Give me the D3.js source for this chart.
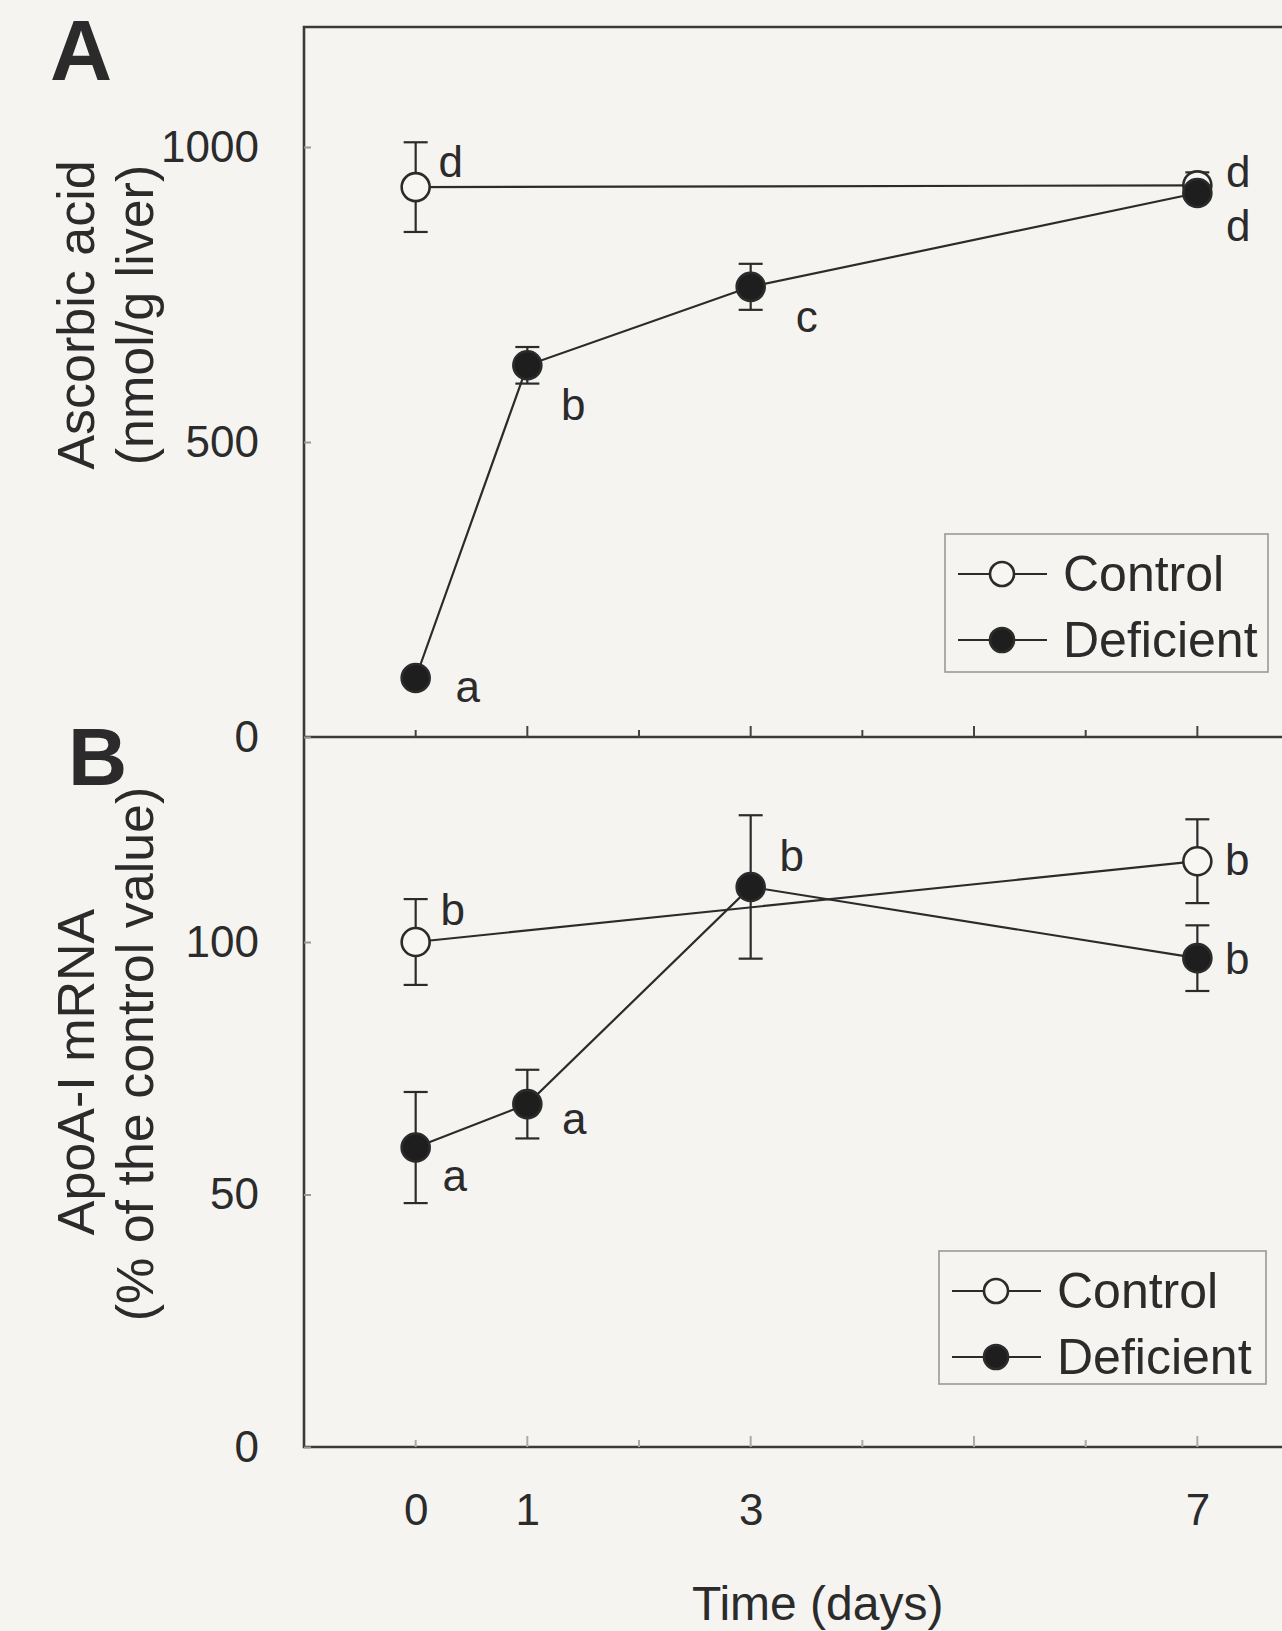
<!DOCTYPE html>
<html>
<head>
<meta charset="utf-8">
<script src="https://cdn.jsdelivr.net/npm/d3@7"></script>
<style>
  body { margin: 0; background: #f5f4f1; }
  svg { display: block; }
  text { font-family: "Liberation Sans", Arial, sans-serif; fill: #2b2b2b; }
</style>
</head>
<body>
<div id="chart"></div>
<script>
// time points (days)
var days = [0, 1, 3, 7];
var controlDays = [0, 7];
var xTickDays = [0, 1, 2, 3, 4, 5, 6, 7];
var xTickLabels = ["0", "1", "", "3", "", "", "", "7"];

// panel A: ascorbic acid (nmol/g liver)
var ascControl = [932, 935];
var ascControlErr = [76, 22];
var ascControlLetters = ["d", "d"];
var ascDeficient = [100, 630, 763, 922];
var ascDeficientErr = [8, 31, 39, 8];
var ascDeficientLetters = ["a", "b", "c", "d"];
var ascTicks = [0, 500, 1000];

// panel B: ApoA-I mRNA (% of control)
var apoControl = [100, 116];
var apoControlErr = [8.5, 8.3];
var apoControlLetters = ["b", "b"];
var apoDeficient = [59.3, 67.9, 110.9, 96.8];
var apoDeficientErr = [11, 6.8, 14.2, 6.5];
var apoDeficientLetters = ["a", "a", "b", "b"];
var apoTicks = [0, 50, 100];

var seriesNames = ["Control", "Deficient"];

var width = 1282, height = 1631;
var plotLeft = 304, plotTop = 27, plotMid = 737, plotBottom = 1447;
var ink = "#2b2b2b";

var svg = d3.select("#chart").append("svg")
    .attr("width", width)
    .attr("height", height)
    .attr("viewBox", [0, 0, width, height]);

var x = d3.scaleLinear().domain([-1, 8]).range([plotLeft, plotLeft + 9 * 111.67]);
var yA = d3.scaleLinear().domain([0, 1000]).range([plotMid, 147]);
var yB = d3.scaleLinear().domain([0, 100]).range([plotBottom, 942]);

// frame (right edge runs off the picture)
svg.append("path")
    .attr("d", "M" + width + "," + plotTop + "H" + plotLeft + "V" + plotBottom + "H" + width
        + "M" + plotLeft + "," + plotMid + "H" + width)
    .attr("fill", "none")
    .attr("stroke", "#3a3a3a")
    .attr("stroke-width", 2.6);

// x ticks on the shared line and on the bottom line
function xTicks(yPos, col) {
    svg.append("g")
        .selectAll("line")
        .data(xTickDays)
        .join("line")
        .attr("x1", d => x(d)).attr("x2", d => x(d))
        .attr("y1", yPos).attr("y2", d => yPos - (d % 2 ? 11 : 7))
        .attr("stroke", col)
        .attr("stroke-width", 2);
}
xTicks(plotMid, "#444");
xTicks(plotBottom, "#aaa");

var xAxis = svg.append("g")
    .attr("transform", "translate(0," + plotBottom + ")")
    .call(d3.axisBottom(x).tickValues(xTickDays).tickSize(0).tickPadding(47)
        .tickFormat((d, i) => xTickLabels[i]));
xAxis.select(".domain").remove();
xAxis.selectAll("text").attr("font-size", 44).attr("fill", ink)
    .style("font-family", "'Liberation Sans', Arial, sans-serif");

svg.append("text")
    .attr("x", x(3.6)).attr("y", 1620)
    .attr("text-anchor", "middle")
    .attr("font-size", 48)
    .text("Time (days)");

function yAxis(scale, ticks) {
    var g = svg.append("g")
        .attr("transform", "translate(" + plotLeft + ",0)")
        .call(d3.axisLeft(scale).tickValues(ticks).tickSize(-7).tickPadding(45)
            .tickFormat(d3.format("d")));
    g.select(".domain").remove();
    g.selectAll("line").attr("stroke", "#999").attr("stroke-width", 2);
    g.selectAll("text").attr("font-size", 44).attr("fill", ink)
        .style("font-family", "'Liberation Sans', Arial, sans-serif");
}
yAxis(yA, ascTicks);
yAxis(yB, apoTicks);

function yTitle(lines, cy1, cy2) {
    svg.append("text")
        .attr("transform", "translate(94," + cy1 + ") rotate(-90)")
        .attr("text-anchor", "middle")
        .attr("font-size", 52)
        .text(lines[0]);
    svg.append("text")
        .attr("transform", "translate(153," + cy2 + ") rotate(-90)")
        .attr("text-anchor", "middle")
        .attr("font-size", 52)
        .text(lines[1]);
}
yTitle(["Ascorbic acid", "(nmol/g liver)"], 315, 315);
yTitle(["ApoA-I mRNA", "(% of the control value)"], 1072, 1054);

svg.append("text").attr("x", 50).attr("y", 80)
    .attr("font-size", 86).attr("font-weight", "bold").text("A");
svg.append("text").attr("x", 68).attr("y", 785)
    .attr("font-size", 82).attr("font-weight", "bold").text("B");

var r = 14;

function drawSeries(xs, vals, errs, letters, y, filled, offsets) {
    var pts = xs.map((d, i) => ({day: d, v: vals[i], e: errs[i], letter: letters[i], off: offsets[i]}));
    var line = d3.line().x(d => x(d.day)).y(d => y(d.v));
    svg.append("path")
        .attr("d", line(pts))
        .attr("fill", "none")
        .attr("stroke", ink)
        .attr("stroke-width", 2.2);

    var eb = svg.append("g").attr("stroke", ink).attr("stroke-width", 2.2);
    pts.forEach(function(p) {
        var cx = x(p.day);
        eb.append("line").attr("x1", cx).attr("x2", cx).attr("y1", y(p.v - p.e)).attr("y2", y(p.v + p.e));
        eb.append("line").attr("x1", cx - 12).attr("x2", cx + 12).attr("y1", y(p.v + p.e)).attr("y2", y(p.v + p.e));
        eb.append("line").attr("x1", cx - 12).attr("x2", cx + 12).attr("y1", y(p.v - p.e)).attr("y2", y(p.v - p.e));
    });

    svg.append("g")
        .selectAll("circle")
        .data(pts)
        .join("circle")
        .attr("cx", d => x(d.day))
        .attr("cy", d => y(d.v))
        .attr("r", r)
        .attr("fill", filled ? "#1e1e1e" : "#f7f6f3")
        .attr("stroke", ink)
        .attr("stroke-width", 2.6);

    svg.append("g")
        .selectAll("text")
        .data(pts)
        .join("text")
        .attr("x", d => x(d.day) + d.off[0])
        .attr("y", d => y(d.v) + d.off[1])
        .attr("text-anchor", "middle")
        .attr("dominant-baseline", "central")
        .attr("font-size", 44)
        .text(d => d.letter);
}

function legend(x0, y0, w, h) {
    var g = svg.append("g").attr("transform", "translate(" + x0 + "," + y0 + ")");
    g.append("rect").attr("width", w).attr("height", h)
        .attr("fill", "none").attr("stroke", "#999").attr("stroke-width", 1.6);
    seriesNames.forEach(function(name, i) {
        var ly = 40 + i * 66;
        g.append("line").attr("x1", 13).attr("x2", 102).attr("y1", ly).attr("y2", ly)
            .attr("stroke", ink).attr("stroke-width", 2.2);
        g.append("circle").attr("cx", 57).attr("cy", ly).attr("r", 12)
            .attr("fill", i ? "#1e1e1e" : "#f7f6f3").attr("stroke", ink).attr("stroke-width", 2.6);
        g.append("text").attr("x", 118).attr("y", ly).attr("dominant-baseline", "central")
            .attr("font-size", 50).text(name);
    });
}

// panel A
drawSeries(controlDays, ascControl, ascControlErr, ascControlLetters, yA, false,
    [[35, -26], [41, -14]]);
drawSeries(days, ascDeficient, ascDeficientErr, ascDeficientLetters, yA, true,
    [[52, 8], [46, 39], [56, 30], [41, 32]]);
legend(945, 534, 323, 138);

// panel B
drawSeries(controlDays, apoControl, apoControlErr, apoControlLetters, yB, false,
    [[37, -33], [40, -2]]);
drawSeries(days, apoDeficient, apoDeficientErr, apoDeficientLetters, yB, true,
    [[39, 28], [47, 14], [41, -31], [40, 0]]);
legend(939, 1251, 327, 133);
</script>
</body>
</html>
